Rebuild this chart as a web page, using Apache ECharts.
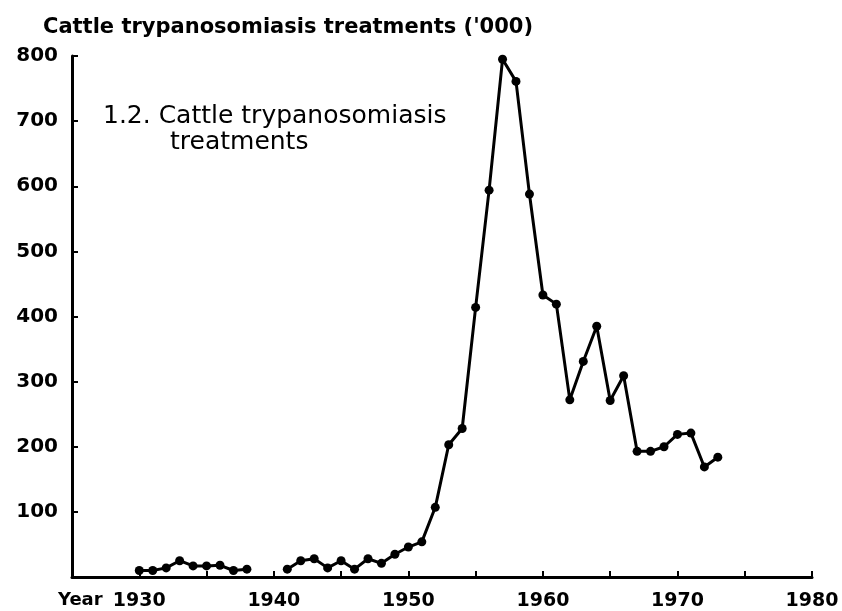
<!DOCTYPE html>
<html>
<head>
<meta charset="utf-8">
<script src="https://cdn.jsdelivr.net/npm/echarts@6/dist/echarts.min.js"></script>
<style>
  html, body { margin: 0; padding: 0; background: #fff; }
  #chart { width: 842px; height: 611px; }
</style>
</head>
<body>
<div id="chart"></div>
<script>
// pre-war run
var years1 = [1930, 1931, 1932, 1933, 1934, 1935, 1936, 1937, 1938];
var values1 = [10, 10, 14, 25, 17, 17, 18, 10, 12];
// post-war run
var years2 = [1941, 1942, 1943, 1944, 1945, 1946, 1947, 1948, 1949, 1950,
  1951, 1952, 1953, 1954, 1955, 1956, 1957, 1958, 1959, 1960,
  1961, 1962, 1963, 1964, 1965, 1966, 1967, 1968, 1969, 1970,
  1971, 1972, 1973];
var values2 = [12, 25, 28, 14, 25, 12, 28, 21, 35, 46,
  54, 107, 203, 228, 414, 594, 795, 761, 588, 433,
  419, 272, 331, 385, 271, 309, 193, 193, 200, 219,
  221, 169, 184];
var xLabels = [1930, 1940, 1950, 1960, 1970, 1980];
var yLabels = [100, 200, 300, 400, 500, 600, 700, 800];

var chart = echarts.init(document.getElementById('chart'));

function pairs(xs, ys) {
  return xs.map(function (x, i) { return [x, ys[i]]; });
}

var lineSeries = function (xs, ys) {
  return {
    type: 'line',
    data: pairs(xs, ys),
    symbol: 'circle',
    symbolSize: 9,
    silent: true,
    lineStyle: { color: '#000', width: 3 },
    itemStyle: { color: '#000' }
  };
};

var option = {
  backgroundColor: '#fff',
  animation: false,
  textStyle: { fontFamily: 'DejaVu Sans' },
  title: {
    text: "Cattle trypanosomiasis treatments ('000)",
    left: 38,
    top: 12,
    textStyle: { color: '#000', fontSize: 21, fontWeight: 'bold', fontFamily: 'DejaVu Sans' }
  },
  grid: { left: 72, right: 30, top: 56, bottom: 34 },
  xAxis: {
    type: 'value',
    min: 1925,
    max: 1980,
    interval: 5,
    splitLine: { show: false },
    axisLine: { show: true, lineStyle: { color: '#000', width: 3 } },
    axisTick: { show: true, inside: true, length: 6, lineStyle: { color: '#000', width: 2 } },
    axisLabel: {
      color: '#000',
      fontSize: 19,
      fontWeight: 'bold',
      margin: 15,
      formatter: function (v) { return xLabels.indexOf(v) >= 0 ? String(v) : ''; }
    }
  },
  yAxis: {
    type: 'value',
    min: 0,
    max: 800,
    interval: 100,
    splitLine: { show: false },
    axisLine: { show: true, lineStyle: { color: '#000', width: 3 } },
    axisTick: { show: true, inside: true, length: 6, lineStyle: { color: '#000', width: 2 } },
    axisLabel: {
      color: '#000',
      fontSize: 20,
      fontWeight: 'bold',
      margin: 14,
      formatter: function (v) { return yLabels.indexOf(v) >= 0 ? String(v) : ''; }
    }
  },
  graphic: [
    {
      type: 'text',
      left: 58,
      top: 591,
      style: { text: 'Year', fill: '#000', font: 'bold 18px "DejaVu Sans"' }
    },
    {
      type: 'text',
      left: 103,
      top: 104,
      style: { text: '1.2. Cattle trypanosomiasis', fill: '#000', font: '25px "DejaVu Sans"' }
    },
    {
      type: 'text',
      left: 170,
      top: 130,
      style: { text: 'treatments', fill: '#000', font: '25px "DejaVu Sans"' }
    }
  ],
  series: [
    lineSeries(years1, values1),
    lineSeries(years2, values2)
  ]
};

chart.setOption(option);
</script>
</body>
</html>
